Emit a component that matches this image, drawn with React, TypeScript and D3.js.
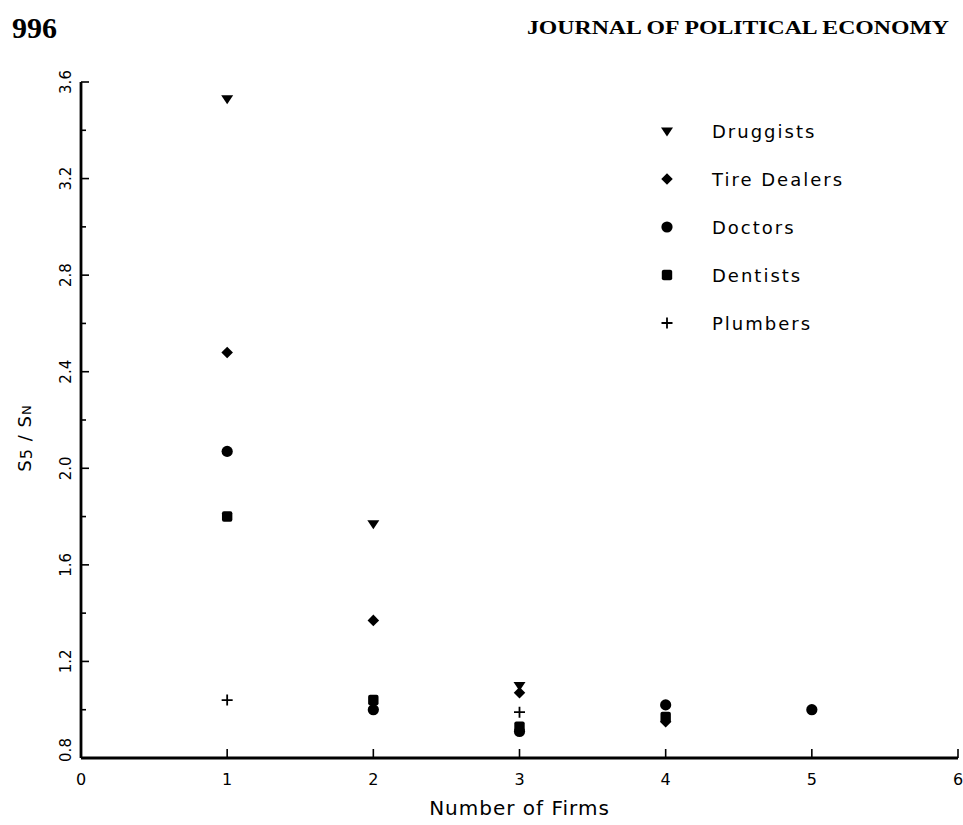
import React, { useEffect, useRef } from "react";
import * as d3 from "d3";

const firms = [1, 2, 3, 4, 5];
const druggists: (number | null)[] = [3.53, 1.77, 1.1, null, null];
const tireDealers: (number | null)[] = [2.48, 1.37, 1.07, 0.95, null];
const doctors: (number | null)[] = [2.07, 1.0, 0.91, 1.02, 1.0];
const dentists: (number | null)[] = [1.8, 1.04, 0.93, 0.97, null];
const plumbers: (number | null)[] = [1.04, null, 0.99, null, null];

const seriesNames = ["Druggists", "Tire Dealers", "Doctors", "Dentists", "Plumbers"];
const xTicks = [0, 1, 2, 3, 4, 5, 6];
const yTicks = [0.8, 1.2, 1.6, 2.0, 2.4, 2.8, 3.2, 3.6];

const W = 963;
const H = 825;

export default function App() {
  const ref = useRef<SVGSVGElement>(null);

  useEffect(() => {
    const svg = d3.select(ref.current);
    svg.selectAll("*").remove();

    const x = d3.scaleLinear().domain([0, 6]).range([81, 958]);
    const y = d3.scaleLinear().domain([0.8, 3.6]).range([758, 82]);

    const font = "'DejaVu Sans', sans-serif";

    // header
    svg.append("text").attr("x", 12).attr("y", 38)
      .attr("font-family", "'Liberation Serif', serif").attr("font-size", 30).attr("font-weight", "bold")
      .text("996");
    svg.append("text").attr("x", 527).attr("y", 34)
      .attr("font-family", "'Liberation Serif', serif").attr("font-size", 18)
      .attr("font-weight", "bold").attr("textLength", 422).attr("lengthAdjust", "spacingAndGlyphs")
      .text("JOURNAL OF POLITICAL ECONOMY");

    const g = svg.append("g");

    // axes lines
    g.append("line").attr("x1", x(0)).attr("x2", x(0)).attr("y1", y(3.6)).attr("y2", y(0.8))
      .attr("stroke", "#000").attr("stroke-width", 2.8);
    g.append("line").attr("x1", x(0)).attr("x2", x(6)).attr("y1", y(0.8)).attr("y2", y(0.8))
      .attr("stroke", "#000").attr("stroke-width", 2.8);

    // y ticks
    const yMinor = d3.range(0.8, 3.61, 0.2);
    yMinor.forEach((v, i) => {
      const major = i % 2 === 0;
      g.append("line").attr("x1", x(0)).attr("x2", x(0) + (major ? 8 : 5))
        .attr("y1", y(v)).attr("y2", y(v)).attr("stroke", "#000").attr("stroke-width", 1.6);
    });
    yTicks.forEach((v) => {
      g.append("text")
        .attr("transform", `translate(${66},${y(v) + (v === 0.8 ? -8 : 0)}) rotate(-90)`)
        .attr("text-anchor", "middle").attr("dominant-baseline", "central")
        .attr("font-family", font).attr("font-size", 15)
        .text(d3.format(".1f")(v));
    });

    // x ticks
    xTicks.forEach((v) => {
      if (v > 0) {
        g.append("line").attr("x1", x(v)).attr("x2", x(v)).attr("y1", y(0.8)).attr("y2", y(0.8) - 9)
          .attr("stroke", "#000").attr("stroke-width", 1.6);
      }
      g.append("text").attr("x", x(v)).attr("y", 779)
        .attr("text-anchor", "middle").attr("dominant-baseline", "central")
        .attr("font-family", font).attr("font-size", 16)
        .text(String(v));
    });

    // axis titles
    g.append("text").attr("x", x(3)).attr("y", 808)
      .attr("text-anchor", "middle").attr("dominant-baseline", "central")
      .attr("font-family", font).attr("font-size", 20).attr("letter-spacing", 1)
      .text("Number of Firms");

    const yt = g.append("text")
      .attr("transform", `translate(${24},${438}) rotate(-90)`)
      .attr("text-anchor", "middle").attr("dominant-baseline", "central")
      .attr("font-family", font).attr("font-size", 18).attr("letter-spacing", 1);
    yt.append("tspan").text("S");
    yt.append("tspan").attr("font-size", 16).attr("dy", 2).text("5");
    yt.append("tspan").attr("dy", -2).text("  /  S");
    yt.append("tspan").attr("font-size", 13).attr("dy", 2).text("N");

    // markers
    const sym = (type: d3.SymbolType, size: number) => d3.symbol().type(type).size(size)()!;
    const triDown = (s: number) => `M${-s},${-s * 0.6}L${s},${-s * 0.6}L0,${s * 0.9}Z`;
    const shapes: ((cx: number, cy: number, sel: any) => void)[] = [
      (cx, cy, sel) => { sel.append("path").attr("d", triDown(6)).attr("transform", `translate(${cx},${cy})`).attr("fill", "#000"); },
      (cx, cy, sel) => { sel.append("path").attr("d", sym(d3.symbolDiamond2, 85)).attr("transform", `translate(${cx},${cy})`).attr("fill", "#000"); },
      (cx, cy, sel) => { sel.append("circle").attr("cx", cx).attr("cy", cy).attr("r", 5.6).attr("fill", "#000"); },
      (cx, cy, sel) => { sel.append("rect").attr("x", cx - 5.2).attr("y", cy - 5.2).attr("width", 10.4).attr("height", 10.4).attr("rx", 2).attr("fill", "#000"); },
      (cx, cy, sel) => {
        sel.append("path").attr("d", `M${cx - 5.5},${cy}H${cx + 5.5}M${cx},${cy - 5.5}V${cy + 5.5}`)
          .attr("stroke", "#000").attr("stroke-width", 1.8);
      },
    ];

    const allSeries = [druggists, tireDealers, doctors, dentists, plumbers];
    const pts = g.append("g");
    allSeries.forEach((vals, si) => {
      vals.forEach((v, i) => {
        if (v == null) return;
        shapes[si](x(firms[i]), y(v), pts);
      });
    });

    // legend
    const leg = g.append("g");
    seriesNames.forEach((name, i) => {
      const cy = 131 + i * 48;
      shapes[i](667, cy, leg);
      leg.append("text").attr("x", 712).attr("y", cy).attr("dominant-baseline", "central")
        .attr("font-family", font).attr("font-size", 18).attr("letter-spacing", 2)
        .text(name);
    });
  }, []);

  return (
    <svg ref={ref} width={W} height={H} style={{ position: "absolute", left: 0, top: 0, background: "#fff" }} />
  );
}
